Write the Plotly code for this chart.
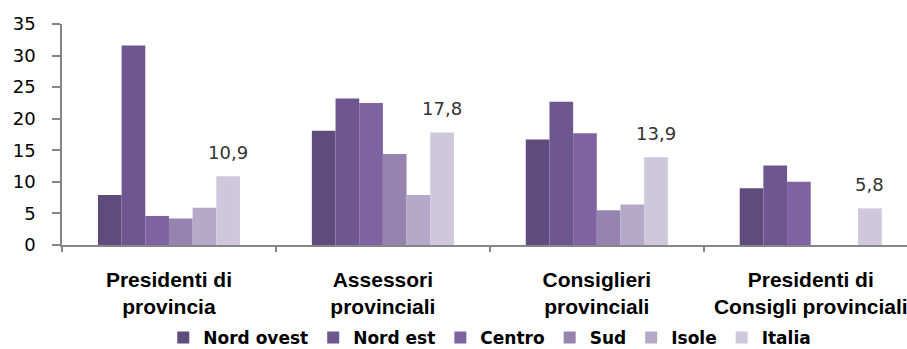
import plotly.graph_objects as go

# Categories (two-line tick labels)
categories = [
    "Presidenti di<br>provincia",
    "Assessori<br>provinciali",
    "Consiglieri<br>provinciali",
    "Presidenti di<br>Consigli provinciali",
]

# Series values (percentages); None where no bar is drawn
nord_ovest = [7.9, 18.1, 16.7, 9.0]
nord_est = [31.6, 23.2, 22.7, 12.6]
centro = [4.6, 22.5, 17.7, 10.0]
sud = [4.2, 14.4, 5.5, None]
isole = [5.9, 7.9, 6.4, None]
italia = [10.9, 17.8, 13.9, 5.8]

series_names = ["Nord ovest", "Nord est", "Centro", "Sud", "Isole", "Italia"]
series_values = [nord_ovest, nord_est, centro, sud, isole, italia]
series_colors = ["#5F4B7C", "#6E5790", "#7E63A0", "#9683B0", "#B4A9C8", "#CFC8DC"]

y_ticks = [0, 5, 10, 15, 20, 25, 30, 35]

axis_grey = "#868686"
cat_font = "Liberation Sans, Arial, sans-serif"
legend_font = "DejaVu Sans, Verdana, sans-serif"

fig = go.Figure()
for name, vals, col in zip(series_names, series_values, series_colors):
    fig.add_trace(go.Bar(
        name=name,
        x=categories,
        y=vals,
        marker=dict(color=col, line=dict(width=0)),
    ))

# Value labels above the Italia bars
n_series = len(series_names)
plot_w = 845
x_range = [-0.5, 3.45]
cat_px = plot_w / (x_range[1] - x_range[0])
bargap = 0.336
bar_px = cat_px * (1 - bargap) / n_series
italia_offset = (n_series - 1 - (n_series - 1) / 2) * bar_px
for cat, v in zip(categories, italia):
    fig.add_annotation(
        x=cat, y=v, xref="x", yref="y",
        text=f"{v:.1f}".replace(".", ","),
        showarrow=False,
        xshift=italia_offset, yshift=24,
        yanchor="middle",
        font=dict(family="DejaVu Sans, Verdana, sans-serif", size=18, color="#333333"),
    )

fig.update_layout(
    width=907, height=349,
    margin=dict(l=62, r=0, t=24, b=104, autoexpand=False),
    paper_bgcolor="white",
    plot_bgcolor="white",
    barmode="group",
    bargap=bargap,
    bargroupgap=0,
    showlegend=True,
    legend=dict(
        orientation="h",
        xref="container", yref="container",
        x=0.54, xanchor="center",
        y=1 - 338 / 349, yanchor="middle",
        font=dict(family=legend_font, size=17, color="#000000", weight="bold"),
        itemwidth=30,
        traceorder="normal",
        bgcolor="rgba(0,0,0,0)",
    ),
    xaxis=dict(
        range=x_range,
        automargin=False,
        showgrid=False,
        showline=True, linecolor=axis_grey, linewidth=1.5,
        ticks="outside", tickson="boundaries", ticklen=5,
        tickcolor=axis_grey, tickwidth=1.5,
        tickfont=dict(family=cat_font, size=21, color="#000000", weight="bold"),
        ticklabelstandoff=15,
        fixedrange=True,
    ),
    yaxis=dict(
        range=[0, 35],
        tickvals=y_ticks,
        automargin=False,
        showgrid=False, zeroline=False,
        showline=True, linecolor=axis_grey, linewidth=1.5,
        ticks="outside", ticklen=8, tickcolor=axis_grey, tickwidth=1.5,
        tickfont=dict(family="DejaVu Sans, Verdana, sans-serif", size=18, color="#000000"),
        ticklabelstandoff=13,
        fixedrange=True,
    ),
)

fig.write_html("out.html")
